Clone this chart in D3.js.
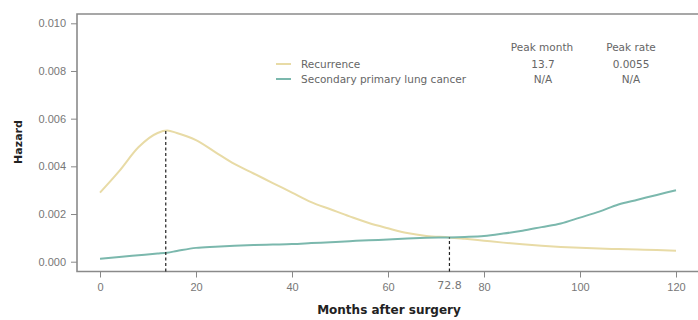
<!DOCTYPE html>
<html><head><meta charset="utf-8">
<script src="https://cdn.jsdelivr.net/npm/d3@7"></script>
<style>body{margin:0;background:#fff;} svg{display:block;font-family:"DejaVu Sans",sans-serif;}</style>
</head><body>
<svg id="c" width="698" height="320"></svg>
<script>
const months = [0,4,8,12,14,16,20,24,28,32,36,40,44,48,52,56,60,64,68,72.8,76,80,84,88,92,96,100,104,108,112,116,120];
const recurrence = [0.0029,0.0038,0.0048,0.0054,0.0055,0.0054,0.0051,0.0046,0.0041,0.0037,0.0033,0.0029,0.0025,0.0022,0.0019,0.00162,0.0014,0.0012,0.00108,0.00102,0.00096,0.00088,0.0008,0.00073,0.00067,0.00062,0.00058,0.00055,0.00053,0.00051,0.00049,0.00046];
const secondary = [0.00012,0.0002,0.00027,0.00034,0.00038,0.00045,0.00058,0.00063,0.00067,0.0007,0.00072,0.00074,0.00078,0.00082,0.00086,0.0009,0.00093,0.00097,0.001,0.00102,0.00104,0.00108,0.00118,0.0013,0.00145,0.0016,0.00185,0.0021,0.0024,0.0026,0.0028,0.003];
const xTicks = [0,20,40,60,80,100,120];
const yTicks = [0,0.002,0.004,0.006,0.008,0.010];
const seriesNames = ["Recurrence","Secondary primary lung cancer"];
const peakMonth = ["13.7","N/A"];
const peakRate = ["0.0055","N/A"];
const markers = [{m:13.7, v:0.0055},{m:72.8, v:0.00102}];
const colors = ["#e8dba6","#7bb8ad"];

const svg = d3.select("#c");
const x = d3.scaleLinear().domain([0,120]).range([100,676]);
const y = d3.scaleLinear().domain([0,0.010]).range([261.7,23.3]);
const frame = {l:77, t:14, b:271.5, r:702};

svg.append("path").attr("d",`M${frame.r},${frame.t}H${frame.l}V${frame.b}H${frame.r}`)
  .attr("fill","none").attr("stroke","#8a8a8a").attr("stroke-width",1.6);

const ya = svg.append("g").attr("transform",`translate(${frame.l},0)`)
  .call(d3.axisLeft(y).tickValues(yTicks).tickFormat(d3.format(".3f")).tickSize(6).tickPadding(5));
ya.select(".domain").remove();
ya.selectAll("line").attr("stroke","#888");
ya.selectAll("text").attr("fill","#777").style("font-size","11px");

const xa = svg.append("g").attr("transform",`translate(0,${frame.b})`)
  .call(d3.axisBottom(x).tickValues(xTicks).tickFormat(d3.format("d")).tickSize(6).tickPadding(6));
xa.select(".domain").remove();
xa.selectAll("line").attr("stroke","#888");
xa.selectAll("text").attr("fill","#777").style("font-size","11px");
svg.append("text").attr("x",x(72.8)).attr("y",289).attr("text-anchor","middle")
  .attr("fill","#777").style("font-size","11px").text("72.8");

svg.append("text").attr("transform",`translate(22,142) rotate(-90)`).attr("text-anchor","middle")
  .attr("fill","#222").style("font-size","11px").style("font-weight","bold").text("Hazard");
svg.append("text").attr("x",389).attr("y",314).attr("text-anchor","middle")
  .attr("fill","#222").style("font-size","12px").style("font-weight","bold").text("Months after surgery");

const line = d3.line().x((d,i)=>x(months[i])).y(d=>y(d)).curve(d3.curveMonotoneX);
[recurrence, secondary].forEach((s,k)=>{
  svg.append("path").datum(s).attr("d",line).attr("fill","none")
    .attr("stroke",colors[k]).attr("stroke-width",2);
});

markers.forEach(p=>{
  svg.append("line").attr("x1",x(p.m)).attr("x2",x(p.m)).attr("y1",frame.b).attr("y2",y(p.v))
    .attr("stroke","#222").attr("stroke-width",1.2).attr("stroke-dasharray","3,2.5");
});

const lg = svg.append("g").style("font-size","10.5px").attr("fill","#666");
lg.append("text").attr("x",542).attr("y",51).attr("text-anchor","middle").text("Peak month");
lg.append("text").attr("x",631).attr("y",51).attr("text-anchor","middle").text("Peak rate");
seriesNames.forEach((n,i)=>{
  const yy = 64 + i*15;
  lg.append("line").attr("x1",276).attr("x2",291).attr("y1",yy).attr("y2",yy)
    .attr("stroke",colors[i]).attr("stroke-width",2);
  lg.append("text").attr("x",301).attr("y",yy+3.5).text(n);
  lg.append("text").attr("x",543).attr("y",yy+3.5).attr("text-anchor","middle").text(peakMonth[i]);
  lg.append("text").attr("x",631).attr("y",yy+3.5).attr("text-anchor","middle").text(peakRate[i]);
});
</script>
</body></html>
